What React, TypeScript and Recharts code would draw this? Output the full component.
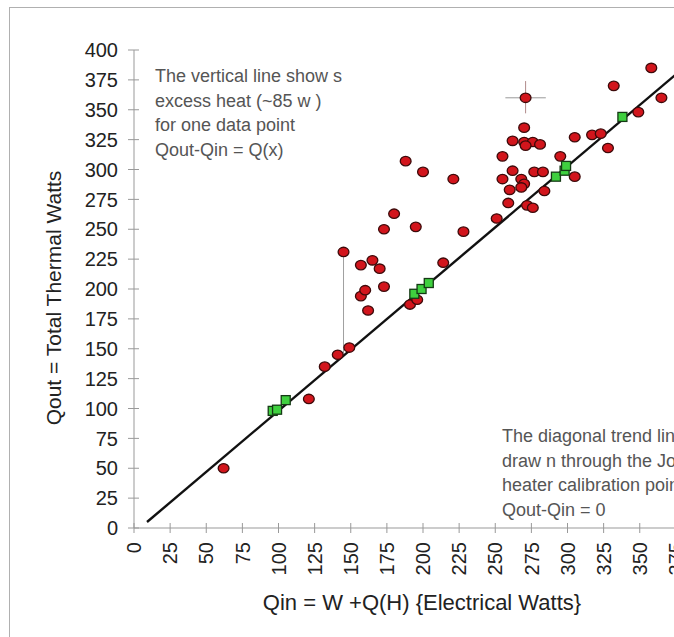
import { ScatterChart, Scatter, XAxis, YAxis } from "recharts"

// red measurement points (Qin, Qout)
const redQin = [62, 121, 132, 141, 149, 145, 157, 165, 170, 173, 157, 160, 162, 191, 196, 214, 173, 180, 195, 228, 188, 200, 221, 251, 259, 260, 255, 262, 255, 268, 270, 268, 277, 283, 284, 272, 276, 262, 270, 276, 281, 271, 270, 271, 295, 305, 305, 317, 323, 328, 349, 332, 358, 365]
const redQout = [50, 108, 135, 145, 151, 231, 220, 224, 217, 202, 194, 199, 182, 187, 191, 222, 250, 263, 252, 248, 307, 298, 292, 259, 272, 283, 292, 299, 311, 292, 288, 285, 298, 298, 282, 270, 268, 324, 323, 323, 321, 320, 335, 360, 311, 294, 327, 329, 330, 318, 348, 370, 385, 360]

// green Joule heater calibration points
const greenQin = [96, 99, 105, 194, 199, 204, 292, 298, 299, 338]
const greenQout = [98, 99, 107, 196, 200, 205, 294, 299, 303, 344]

// diagonal trend line
const trendQin = [9, 395]
const trendQout = [5, 400]

// vertical excess heat line
const excessQin = [145, 145]
const excessQout = [231, 146]

// crosshair around one point
const crossHQin = [257, 285]
const crossHQout = [360, 360]
const crossVQin = [271, 271]
const crossVQout = [374, 347]

const xTicks = [0, 25, 50, 75, 100, 125, 150, 175, 200, 225, 250, 275, 300, 325, 350, 375, 400]
const yTicks = [0, 25, 50, 75, 100, 125, 150, 175, 200, 225, 250, 275, 300, 325, 350, 375, 400]

const topNote = ["The vertical line show s", "excess heat (~85 w )", "for one data point", "Qout-Qin = Q(x)"]
const bottomNote = ["The diagonal trend line is", "draw n through the Joule", "heater calibration points", "Qout-Qin = 0"]

const toPoints = (xs: number[], ys: number[]) => xs.map((x, i) => ({ x, y: ys[i] }))

const font = "'Liberation Sans', Arial, sans-serif"

function YTick({ x, y, payload }: any) {
  return (
    <g>
      <line x1={x - 6} x2={x + 5} y1={y} y2={y} stroke="#999" />
      <text x={x - 16} y={y} dy="0.36em" textAnchor="end" fontSize={20} fill="#222" fontFamily={font}>
        {payload.value}
      </text>
    </g>
  )
}

function XTick({ x, y, payload }: any) {
  return (
    <g>
      <line x1={x} x2={x} y1={y - 5} y2={y + 5} stroke="#999" />
      <text
        x={x}
        y={y + 14}
        dy="0.36em"
        textAnchor="end"
        fontSize={20}
        fill="#222"
        fontFamily={font}
        transform={`rotate(-90 ${x} ${y + 14})`}
      >
        {payload.value}
      </text>
    </g>
  )
}

const RedDot = (p: any) => (
  <ellipse cx={p.cx} cy={p.cy} rx={5.4} ry={4.7} fill="#d2151c" stroke="#3d0a0a" strokeWidth={1.3} />
)
const GreenSquare = (p: any) => (
  <rect x={p.cx - 4.5} y={p.cy - 4.5} width={9} height={9} fill="#3fd03f" stroke="#153a15" strokeWidth={1.3} />
)
const NoDot = () => <g />

export default function App() {
  return (
    <div style={{ position: "absolute", left: 0, top: 0, width: 674, height: 637, overflow: "hidden", background: "#fff" }}>
      <div
        style={{
          position: "absolute",
          left: 9,
          top: 7,
          width: 800,
          height: 800,
          borderTop: "1px solid #b0b0b0",
          borderLeft: "1px solid #b0b0b0",
        }}
      />
      <div style={{ position: "absolute", left: 0, top: 0 }}>
        <ScatterChart width={760} height={637} margin={{ top: 50, right: 48, bottom: 0, left: 0 }}>
          <XAxis
            type="number"
            dataKey="x"
            domain={[0, 400]}
            ticks={xTicks}
            interval={0}
            height={109}
            tickSize={0}
            tickMargin={0}
            tick={<XTick />}
            axisLine={{ stroke: "#999" }}
          />
          <YAxis
            type="number"
            dataKey="y"
            domain={[0, 400]}
            ticks={yTicks}
            interval={0}
            width={134}
            tickSize={0}
            tickMargin={0}
            tick={<YTick />}
            axisLine={{ stroke: "#999" }}
          />
          <Scatter data={toPoints(excessQin, excessQout)} line={{ stroke: "#a0a0a0", strokeWidth: 1 }} shape={NoDot} isAnimationActive={false} legendType="none" />
          <Scatter data={toPoints(crossHQin, crossHQout)} line={{ stroke: "#999", strokeWidth: 1 }} shape={NoDot} isAnimationActive={false} legendType="none" />
          <Scatter data={toPoints(crossVQin, crossVQout)} line={{ stroke: "#b08a8a", strokeWidth: 1 }} shape={NoDot} isAnimationActive={false} legendType="none" />
          <Scatter data={toPoints(trendQin, trendQout)} line={{ stroke: "#111", strokeWidth: 2.4 }} shape={NoDot} isAnimationActive={false} legendType="none" />
          <Scatter data={toPoints(redQin, redQout)} shape={RedDot} isAnimationActive={false} legendType="none" />
          <Scatter data={toPoints(greenQin, greenQout)} shape={GreenSquare} isAnimationActive={false} legendType="none" />
        </ScatterChart>
      </div>
      <div
        style={{
          position: "absolute",
          left: 54,
          top: 298,
          transform: "translate(-50%, -50%) rotate(-90deg)",
          whiteSpace: "nowrap",
          fontFamily: font,
          fontSize: 21,
          color: "#222",
        }}
      >
        Qout = Total Thermal Watts
      </div>
      <div
        style={{
          position: "absolute",
          left: 422,
          top: 603,
          transform: "translate(-50%, -50%)",
          whiteSpace: "nowrap",
          fontFamily: font,
          fontSize: 22,
          color: "#222",
        }}
      >
        Qin = W +Q(H) {"{"}Electrical Watts{"}"}
      </div>
      <div style={{ position: "absolute", left: 155, top: 64, fontFamily: font, fontSize: 18, lineHeight: "24.5px", color: "#555", whiteSpace: "nowrap" }}>
        {topNote.map((t) => (
          <div key={t}>{t}</div>
        ))}
      </div>
      <div style={{ position: "absolute", left: 502, top: 424, fontFamily: font, fontSize: 18, lineHeight: "24.7px", color: "#555", whiteSpace: "nowrap", background: "#fff" }}>
        {bottomNote.map((t) => (
          <div key={t}>{t}</div>
        ))}
      </div>
    </div>
  )
}
